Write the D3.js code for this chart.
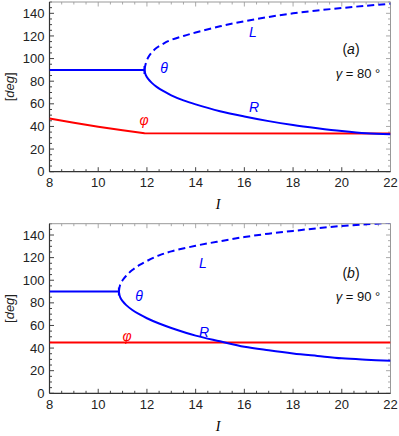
<!DOCTYPE html>
<html>
<head>
<meta charset="utf-8">
<script src="https://cdn.jsdelivr.net/npm/d3@7"></script>
<style>
  body { margin: 0; background: #fff; }
  svg { display: block; font-family: "Liberation Sans", Arial, sans-serif; }
</style>
</head>
<body>
<svg id="chart" width="399" height="436"></svg>
<script>
// ---- data ----
const xTicks = [8, 10, 12, 14, 16, 18, 20, 22]
const yTicks = [0, 20, 40, 60, 80, 100, 120, 140]

// panel (a), gamma = 80
const flatA_I = [8, 11.9]
const flatA = [90, 90]
const branchA_I = [11.9, 11.95, 12.05, 12.2, 12.4, 12.7, 13, 13.5, 14, 15, 16, 17, 18, 19, 20, 21, 22]
const leftA = [90, 95.5, 101, 105.5, 109.5, 113.5, 116.5, 120, 123, 128.5, 133, 136.8, 140, 142.5, 144.7, 146.7, 148.5]
const rightA = [90, 85.5, 82, 78.5, 75, 71, 67.5, 63, 59.5, 53.5, 48.8, 44.7, 41.3, 38.5, 36, 34, 33]
const phiA_I = [8, 9, 10, 11, 11.9, 22]
const phiA = [47, 43.2, 39.8, 36.7, 34, 33.7]

// panel (b), gamma = 90
const flatB_I = [8, 10.85]
const flatB = [90, 90]
const branchB_I = [10.85, 10.9, 11, 11.15, 11.4, 11.7, 12, 12.5, 13, 14, 15, 16, 17, 18, 19, 20, 21, 22]
const leftB = [90, 96, 100, 104, 109, 113.5, 117, 122, 125.5, 130.5, 134.5, 138.2, 141.2, 143.6, 146, 148, 149.5, 150.8]
const rightB = [90, 85, 81.5, 78, 73.7, 69.7, 66.4, 61.7, 57.8, 51, 46, 41.2, 38, 35.2, 33, 30.9, 29.7, 28.8]
const phiB_I = [8, 22]
const phiB = [45, 45]

const zip = (xs, ys) => xs.map((x, i) => [x, ys[i]])

const panels = [
    { id: 'a', top: 2, bottom: 171.7, gamma: '80',
      flat: zip(flatA_I, flatA), left: zip(branchA_I, leftA), right: zip(branchA_I, rightA), phi: zip(phiA_I, phiA),
      labels: { theta: [164, 68], L: [253, 32], R: [254, 107], phi: [144, 120], tag: [351, 54], gam: [358, 78] } },
    { id: 'b', top: 223.7, bottom: 393.3, gamma: '90',
      flat: zip(flatB_I, flatB), left: zip(branchB_I, leftB), right: zip(branchB_I, rightB), phi: zip(phiB_I, phiB),
      labels: { theta: [139, 296], L: [203, 263], R: [204, 332], phi: [127, 336], tag: [351, 278], gam: [358, 301] } }
]

const svg = d3.select('#chart')
const blue = '#0000ff', red = '#ff0000'
const x = d3.scaleLinear().domain([8, 22]).range([49.5, 390.5])

panels.forEach((p, k) => {
    const y = d3.scaleLinear().domain([0, 150]).range([p.bottom, p.top])
    const g = svg.append('g')

    // clip to the frame
    svg.append('clipPath').attr('id', 'clip' + k)
        .append('rect')
        .attr('x', x.range()[0]).attr('y', p.top)
        .attr('width', x.range()[1] - x.range()[0]).attr('height', p.bottom - p.top)

    // minor + major ticks, all four sides, pointing in
    const xMinor = d3.range(8, 22.01, 0.5)
    const yMinor = d3.range(0, 150.01, 5)
    const tk = g.append('g').attr('stroke-width', 1)
    xMinor.forEach(v => {
        const len = v % 2 === 0 ? 4.5 : 2.5
        tk.append('line').attr('x1', x(v)).attr('x2', x(v)).attr('y1', p.bottom).attr('y2', p.bottom - len).attr('stroke', '#444')
        tk.append('line').attr('x1', x(v)).attr('x2', x(v)).attr('y1', p.top).attr('y2', p.top + len).attr('stroke', '#aaa')
    })
    yMinor.forEach(v => {
        const len = v % 20 === 0 ? 4.5 : 2.5
        tk.append('line').attr('y1', y(v)).attr('y2', y(v)).attr('x1', x(8)).attr('x2', x(8) + len).attr('stroke', '#444')
        tk.append('line').attr('y1', y(v)).attr('y2', y(v)).attr('x1', x(22)).attr('x2', x(22) - len).attr('stroke', '#aaa')
    })

    // frame
    g.append('line').attr('x1', x(8)).attr('x2', x(22)).attr('y1', p.top).attr('y2', p.top).attr('stroke', '#999')
    g.append('line').attr('x1', x(22)).attr('x2', x(22)).attr('y1', p.top).attr('y2', p.bottom).attr('stroke', '#999')
    g.append('line').attr('x1', x(8)).attr('x2', x(22)).attr('y1', p.bottom).attr('y2', p.bottom).attr('stroke', '#333').attr('stroke-width', 1.2)
    g.append('line').attr('x1', x(8)).attr('x2', x(8)).attr('y1', p.top).attr('y2', p.bottom).attr('stroke', '#333').attr('stroke-width', 1.2)

    // tick labels
    g.selectAll('.xl').data(xTicks).enter().append('text')
        .attr('x', d => x(d)).attr('y', p.bottom + 15.5)
        .attr('text-anchor', 'middle').attr('font-size', 13).attr('fill', '#222')
        .text(d => d)
    g.selectAll('.yl').data(yTicks).enter().append('text')
        .attr('x', x(8) - 5).attr('y', d => y(d) + 4.6)
        .attr('text-anchor', 'end').attr('font-size', 13).attr('fill', '#222')
        .text(d => d)

    // axis labels
    g.append('text').attr('x', 218).attr('y', p.bottom + 37.5)
        .attr('text-anchor', 'middle').attr('font-family', '"Liberation Serif", serif')
        .attr('font-style', 'italic').attr('font-size', 14).text('I')
    const yl = g.append('text')
        .attr('transform', `translate(13.5, ${(p.top + p.bottom) / 2}) rotate(-90)`)
        .attr('text-anchor', 'middle').attr('font-size', 13).attr('fill', '#222')
    yl.append('tspan').text('[')
    yl.append('tspan').attr('font-style', 'italic').text('deg')
    yl.append('tspan').text(']')

    // curves
    const line = d3.line().x(d => x(d[0])).y(d => y(d[1]))
    const smooth = d3.line().x(d => x(d[0])).y(d => y(d[1])).curve(d3.curveCatmullRom.alpha(0.5))
    const c = g.append('g').attr('clip-path', `url(#clip${k})`).attr('fill', 'none').attr('stroke-width', 2)

    c.append('path').attr('d', line(p.phi)).attr('stroke', red)
    c.append('path').attr('d', line(p.flat)).attr('stroke', blue)
    c.append('path').attr('d', smooth(p.right)).attr('stroke', blue)
    c.append('path').attr('d', smooth(p.left)).attr('stroke', blue).attr('stroke-dasharray', '7,4')
    // short vertical bar at the branch point
    const v = p.flat[1]
    c.append('line').attr('x1', x(v[0])).attr('x2', x(v[0])).attr('y1', y(v[1]) - 4).attr('y2', y(v[1]) + 4).attr('stroke', blue)

    // curve labels
    const L = p.labels
    const lab = (pos, txt, col) => g.append('text').attr('x', pos[0]).attr('y', pos[1] + 5)
        .attr('text-anchor', 'middle').attr('font-size', 14).attr('font-style', 'italic').attr('fill', col).text(txt)
    lab(L.theta, 'θ', blue)
    lab(L.L, 'L', blue)
    lab(L.R, 'R', blue)
    lab(L.phi, 'φ', red)

    const tag = g.append('text').attr('x', L.tag[0]).attr('y', L.tag[1]).attr('text-anchor', 'middle').attr('font-size', 14).attr('fill', '#111')
    tag.append('tspan').text('(')
    tag.append('tspan').attr('font-style', 'italic').text(p.id)
    tag.append('tspan').text(')')

    const gm = g.append('text').attr('x', L.gam[0]).attr('y', L.gam[1]).attr('text-anchor', 'middle').attr('font-size', 13).attr('fill', '#111')
    gm.append('tspan').attr('font-style', 'italic').text('γ')
    gm.append('tspan').text(' = ' + p.gamma + ' °')
})
</script>
</body>
</html>
